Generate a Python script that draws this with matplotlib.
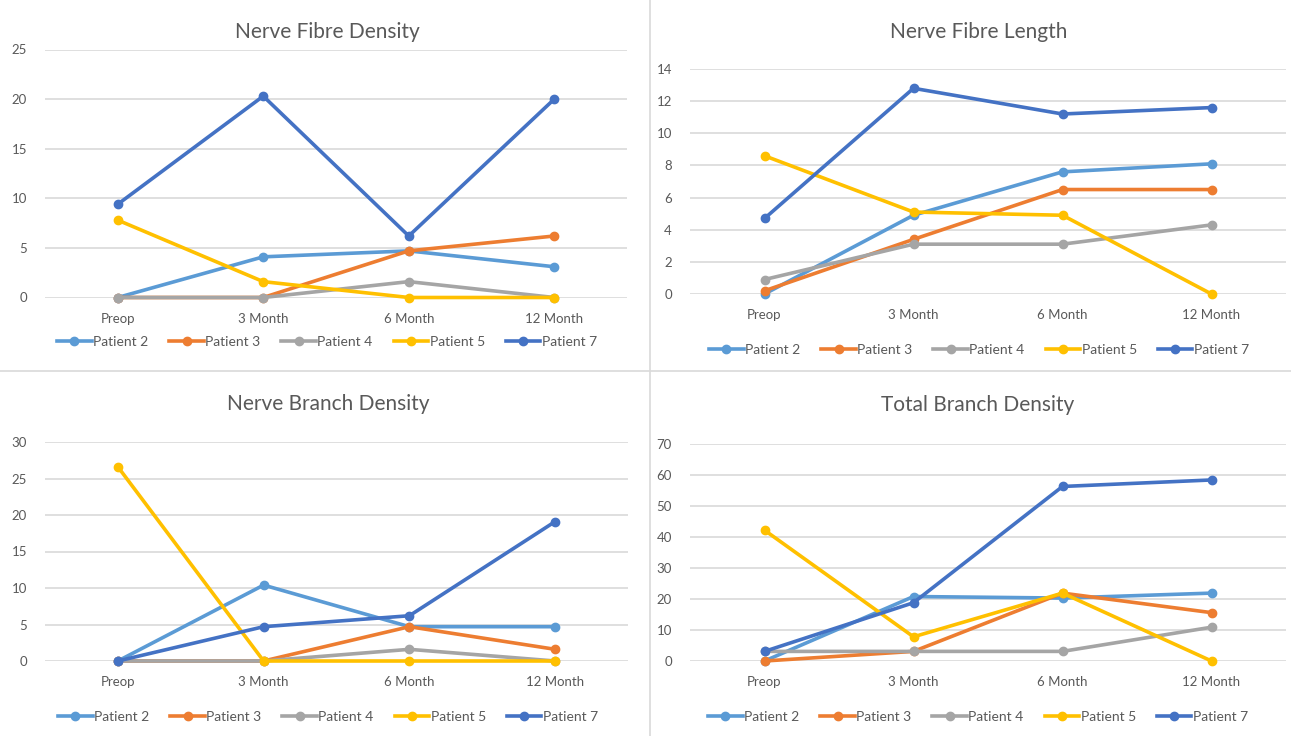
import numpy as np
import matplotlib
matplotlib.use('Agg')
import matplotlib.pyplot as plt
from matplotlib.lines import Line2D

plt.rcParams['font.family'] = ['Lato', 'DejaVu Sans']

# categorie e serie
categories = ['Preop', '3 Month', '6 Month', '12 Month']
patients = ['Patient 2', 'Patient 3', 'Patient 4', 'Patient 5', 'Patient 7']
colors = ['#5B9BD5', '#ED7D31', '#A5A5A5', '#FFC000', '#4472C4']

# Nerve Fibre Density
nfd_p2 = [0, 4.1, 4.7, 3.1]
nfd_p3 = [0, 0, 4.7, 6.2]
nfd_p4 = [0, 0, 1.6, 0]
nfd_p5 = [7.8, 1.6, 0, 0]
nfd_p7 = [9.4, 20.3, 6.2, 20.0]

# Nerve Fibre Length
nfl_p2 = [0, 4.9, 7.6, 8.1]
nfl_p3 = [0.2, 3.4, 6.5, 6.5]
nfl_p4 = [0.9, 3.1, 3.1, 4.3]
nfl_p5 = [8.6, 5.1, 4.9, 0]
nfl_p7 = [4.7, 12.8, 11.2, 11.6]

# Nerve Branch Density
nbd_p2 = [0, 10.4, 4.7, 4.7]
nbd_p3 = [0, 0, 4.7, 1.6]
nbd_p4 = [0, 0, 1.6, 0]
nbd_p5 = [26.6, 0, 0, 0]
nbd_p7 = [0, 4.7, 6.2, 19.1]

# Total Branch Density
tbd_p2 = [0, 20.8, 20.3, 21.9]
tbd_p3 = [0, 3.1, 21.9, 15.6]
tbd_p4 = [3.1, 3.1, 3.1, 10.9]
tbd_p5 = [42.2, 7.8, 21.9, 0]
tbd_p7 = [3.1, 18.8, 56.3, 58.4]

W, H = 1291, 736
fig = plt.figure(figsize=(W / 100, H / 100), dpi=100)
fig.patch.set_facecolor('white')

# pannelli: titolo, serie, ymax, passo, posizione in pixel (sinistra, destra, alto, basso),
# centro x del titolo/legenda, y titolo, y legenda
panels = [
    ('Nerve Fibre Density', [nfd_p2, nfd_p3, nfd_p4, nfd_p5, nfd_p7], 25, 5,
     (45, 627, 49.5, 297.5), 327, 32, 342),
    ('Nerve Fibre Length', [nfl_p2, nfl_p3, nfl_p4, nfl_p5, nfl_p7], 14, 2,
     (690, 1286, 69, 294), 979, 32, 350),
    ('Nerve Branch Density', [nbd_p2, nbd_p3, nbd_p4, nbd_p5, nbd_p7], 30, 5,
     (45, 628, 442, 661), 328, 404, 717),
    ('Total Branch Density', [tbd_p2, tbd_p3, tbd_p4, tbd_p5, tbd_p7], 70, 10,
     (690, 1286, 444, 661), 978, 405, 717),
]

x = np.arange(len(categories))
for title, series, ymax, step, (l, r, t, b), cx, ty, ly in panels:
    ax = fig.add_axes([l / W, 1 - b / H, (r - l) / W, (b - t) / H])
    for vals, c, name in zip(series, colors, patients):
        ax.plot(x, vals, color=c, lw=2.6, marker='o', ms=6, label=name,
                clip_on=False, solid_joinstyle='round', zorder=3)
    ax.set_xlim(-0.5, 3.5)
    ax.set_ylim(0, ymax)
    ax.set_yticks(np.arange(0, ymax + step, step))
    ax.set_xticks(x)
    ax.set_xticklabels(categories)
    ax.yaxis.grid(True, color='#D9D9D9', lw=1.2)
    ax.set_axisbelow(True)
    for s in ax.spines.values():
        s.set_visible(False)
    ax.tick_params(length=0, labelsize=9.5, colors='#595959', pad=11)
    ax.tick_params(axis='y', pad=13)
    fig.text(cx / W, 1 - ty / H, title, ha='center', va='center',
             fontsize=15, color='#595959')
    fig.legend(*ax.get_legend_handles_labels(), loc='center',
               bbox_to_anchor=(cx / W, 1 - ly / H), ncol=5,
               frameon=False, fontsize=10, labelcolor='#595959',
               handlelength=2.5, handletextpad=0.1, columnspacing=1.5)

# linee di separazione tra i pannelli
fig.add_artist(Line2D([650 / W, 650 / W], [0, 1], color='#D9D9D9', lw=1.2))
fig.add_artist(Line2D([0, 1], [1 - 371 / H, 1 - 371 / H], color='#D9D9D9', lw=1.2))

fig.savefig('out.png', dpi=100)
